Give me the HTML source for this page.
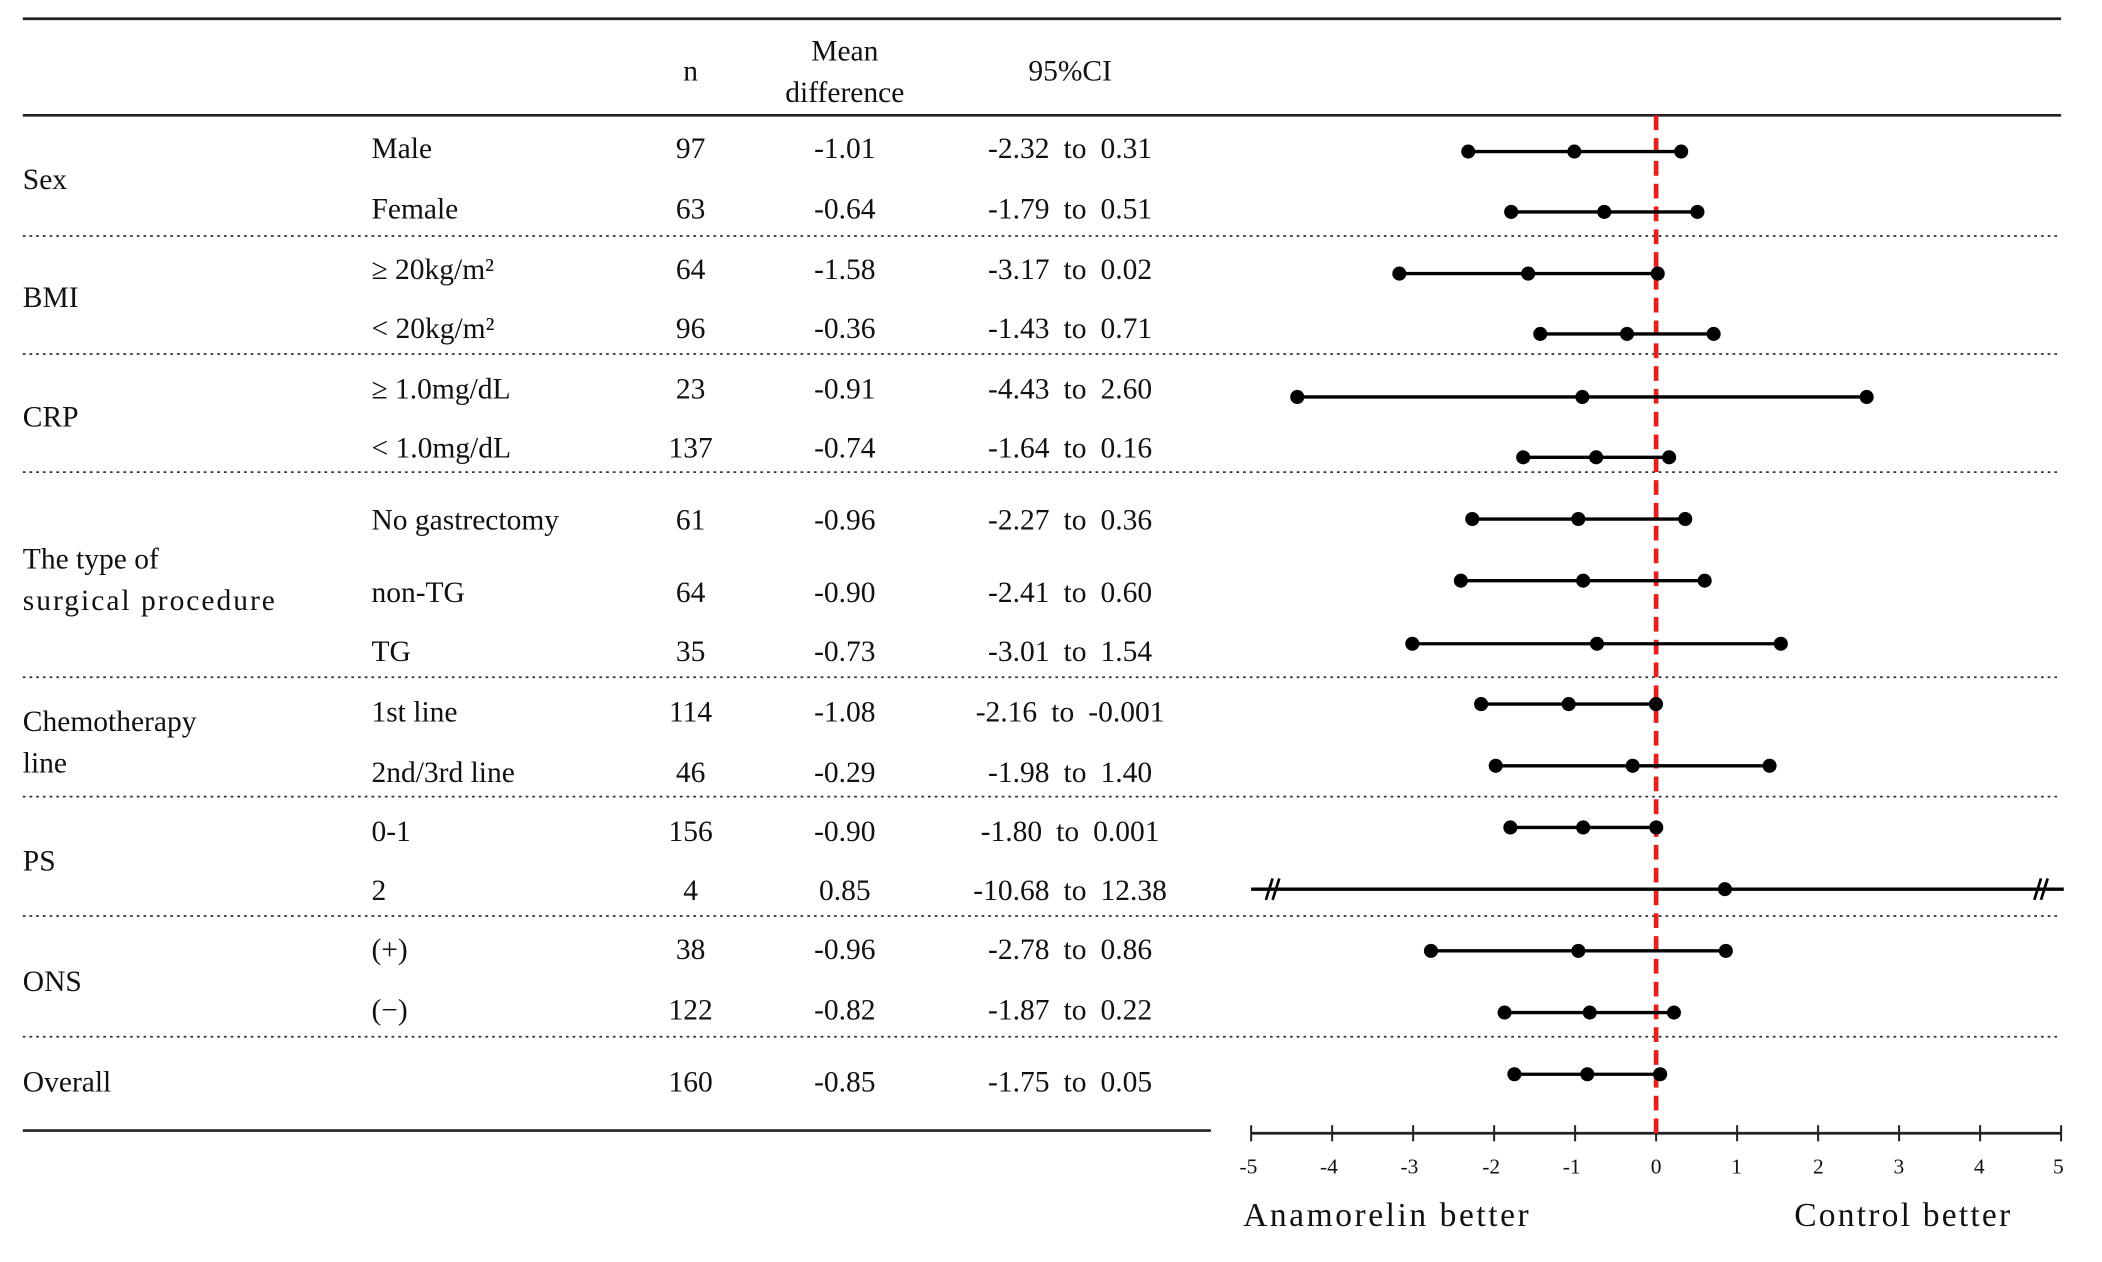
<!DOCTYPE html>
<html><head><meta charset="utf-8"><style>
html,body{margin:0;padding:0;background:#fff;}
svg{display:block}
text{font-family:"Liberation Serif",serif;fill:#111;}
.ci{word-spacing:5px}
</style></head><body>
<svg width="2102" height="1262" viewBox="0 0 1567.5 941" preserveAspectRatio="none" xmlns="http://www.w3.org/2000/svg">
<g stroke="#222" stroke-width="2">
<line x1="17" y1="14" x2="1537" y2="14"/>
<line x1="17" y1="86" x2="1537" y2="86"/>
<line x1="17" y1="843" x2="903" y2="843"/>
<line x1="933" y1="845" x2="1537" y2="845"/>
</g>
<g stroke="#333" stroke-width="1.3" stroke-dasharray="2,3">
<line x1="17" y1="176" x2="1537" y2="176"/>
<line x1="17" y1="264" x2="1537" y2="264"/>
<line x1="17" y1="352" x2="1537" y2="352"/>
<line x1="17" y1="505" x2="1537" y2="505"/>
<line x1="17" y1="594" x2="1537" y2="594"/>
<line x1="17" y1="683" x2="1537" y2="683"/>
<line x1="17" y1="773" x2="1537" y2="773"/>
</g>
<g stroke="#222" stroke-width="1.5">
<line x1="933" y1="839" x2="933" y2="851"/><line x1="993.4" y1="839" x2="993.4" y2="851"/><line x1="1053.8" y1="839" x2="1053.8" y2="851"/><line x1="1114.2" y1="839" x2="1114.2" y2="851"/><line x1="1174.6" y1="839" x2="1174.6" y2="851"/><line x1="1235" y1="839" x2="1235" y2="851"/><line x1="1295.4" y1="839" x2="1295.4" y2="851"/><line x1="1355.8" y1="839" x2="1355.8" y2="851"/><line x1="1416.2" y1="839" x2="1416.2" y2="851"/><line x1="1476.6" y1="839" x2="1476.6" y2="851"/><line x1="1537" y1="839" x2="1537" y2="851"/>
</g>
<g font-size="16" text-anchor="middle">
<text x="931" y="875">-5</text><text x="991" y="875">-4</text><text x="1051" y="875">-3</text><text x="1112" y="875">-2</text><text x="1172" y="875">-1</text><text x="1235" y="875">0</text><text x="1295" y="875">1</text><text x="1356" y="875">2</text><text x="1416" y="875">3</text><text x="1476" y="875">4</text><text x="1535" y="875">5</text>
</g>
<text x="927" y="914" font-size="25" textLength="213" lengthAdjust="spacing">Anamorelin better</text>
<text x="1338" y="914" font-size="25" textLength="161" lengthAdjust="spacing">Control better</text>
<line x1="1235" y1="86" x2="1235" y2="845" stroke="#e8201c" stroke-width="3.5" stroke-dasharray="11,6"/>
<g font-size="22">
<text x="515" y="60" text-anchor="middle">n</text>
<text x="630" y="45" text-anchor="middle">Mean</text>
<text x="630" y="76" text-anchor="middle">difference</text>
<text x="798" y="60" text-anchor="middle">95%CI</text>
<text x="17" y="141">Sex</text>
<text x="17" y="229">BMI</text>
<text x="17" y="318">CRP</text>
<text x="17" y="424">The type of</text>
<text x="17" y="455" textLength="188" lengthAdjust="spacing">surgical procedure</text>
<text x="17" y="545">Chemotherapy</text>
<text x="17" y="576">line</text>
<text x="17" y="649">PS</text>
<text x="17" y="739">ONS</text>
<text x="17" y="814">Overall</text>
</g>
<g font-size="22">
<text x="277" y="118">Male</text><text x="515" y="118" text-anchor="middle">97</text><text x="630" y="118" text-anchor="middle">-1.01</text><text class="ci" x="798" y="118" text-anchor="middle">-2.32 to 0.31</text>
<text x="277" y="163">Female</text><text x="515" y="163" text-anchor="middle">63</text><text x="630" y="163" text-anchor="middle">-0.64</text><text class="ci" x="798" y="163" text-anchor="middle">-1.79 to 0.51</text>
<text x="277" y="208">≥ 20kg/m²</text><text x="515" y="208" text-anchor="middle">64</text><text x="630" y="208" text-anchor="middle">-1.58</text><text class="ci" x="798" y="208" text-anchor="middle">-3.17 to 0.02</text>
<text x="277" y="252">&lt; 20kg/m²</text><text x="515" y="252" text-anchor="middle">96</text><text x="630" y="252" text-anchor="middle">-0.36</text><text class="ci" x="798" y="252" text-anchor="middle">-1.43 to 0.71</text>
<text x="277" y="297">≥ 1.0mg/dL</text><text x="515" y="297" text-anchor="middle">23</text><text x="630" y="297" text-anchor="middle">-0.91</text><text class="ci" x="798" y="297" text-anchor="middle">-4.43 to 2.60</text>
<text x="277" y="341">&lt; 1.0mg/dL</text><text x="515" y="341" text-anchor="middle">137</text><text x="630" y="341" text-anchor="middle">-0.74</text><text class="ci" x="798" y="341" text-anchor="middle">-1.64 to 0.16</text>
<text x="277" y="395">No gastrectomy</text><text x="515" y="395" text-anchor="middle">61</text><text x="630" y="395" text-anchor="middle">-0.96</text><text class="ci" x="798" y="395" text-anchor="middle">-2.27 to 0.36</text>
<text x="277" y="449">non-TG</text><text x="515" y="449" text-anchor="middle">64</text><text x="630" y="449" text-anchor="middle">-0.90</text><text class="ci" x="798" y="449" text-anchor="middle">-2.41 to 0.60</text>
<text x="277" y="493">TG</text><text x="515" y="493" text-anchor="middle">35</text><text x="630" y="493" text-anchor="middle">-0.73</text><text class="ci" x="798" y="493" text-anchor="middle">-3.01 to 1.54</text>
<text x="277" y="538">1st line</text><text x="515" y="538" text-anchor="middle">114</text><text x="630" y="538" text-anchor="middle">-1.08</text><text class="ci" x="798" y="538" text-anchor="middle">-2.16 to -0.001</text>
<text x="277" y="583">2nd/3rd line</text><text x="515" y="583" text-anchor="middle">46</text><text x="630" y="583" text-anchor="middle">-0.29</text><text class="ci" x="798" y="583" text-anchor="middle">-1.98 to 1.40</text>
<text x="277" y="627">0-1</text><text x="515" y="627" text-anchor="middle">156</text><text x="630" y="627" text-anchor="middle">-0.90</text><text class="ci" x="798" y="627" text-anchor="middle">-1.80 to 0.001</text>
<text x="277" y="671">2</text><text x="515" y="671" text-anchor="middle">4</text><text x="630" y="671" text-anchor="middle">0.85</text><text class="ci" x="798" y="671" text-anchor="middle">-10.68 to 12.38</text>
<text x="277" y="715">(+)</text><text x="515" y="715" text-anchor="middle">38</text><text x="630" y="715" text-anchor="middle">-0.96</text><text class="ci" x="798" y="715" text-anchor="middle">-2.78 to 0.86</text>
<text x="277" y="760">(−)</text><text x="515" y="760" text-anchor="middle">122</text><text x="630" y="760" text-anchor="middle">-0.82</text><text class="ci" x="798" y="760" text-anchor="middle">-1.87 to 0.22</text>
<text x="515" y="814" text-anchor="middle">160</text><text x="630" y="814" text-anchor="middle">-0.85</text><text class="ci" x="798" y="814" text-anchor="middle">-1.75 to 0.05</text>
</g>
<g stroke="#000" stroke-width="2.5" fill="#000">
<line x1="1094.9" y1="113" x2="1253.7" y2="113"/><circle cx="1094.9" cy="113" r="4"/><circle cx="1174" cy="113" r="4"/><circle cx="1253.7" cy="113" r="4"/>
<line x1="1126.9" y1="158" x2="1265.8" y2="158"/><circle cx="1126.9" cy="158" r="4"/><circle cx="1196.3" cy="158" r="4"/><circle cx="1265.8" cy="158" r="4"/>
<line x1="1043.5" y1="204" x2="1236.2" y2="204"/><circle cx="1043.5" cy="204" r="4"/><circle cx="1139.6" cy="204" r="4"/><circle cx="1236.2" cy="204" r="4"/>
<line x1="1148.6" y1="249" x2="1277.9" y2="249"/><circle cx="1148.6" cy="249" r="4"/><circle cx="1213.3" cy="249" r="4"/><circle cx="1277.9" cy="249" r="4"/>
<line x1="967.4" y1="296" x2="1392" y2="296"/><circle cx="967.4" cy="296" r="4"/><circle cx="1180" cy="296" r="4"/><circle cx="1392" cy="296" r="4"/>
<line x1="1135.9" y1="341" x2="1244.7" y2="341"/><circle cx="1135.9" cy="341" r="4"/><circle cx="1190.3" cy="341" r="4"/><circle cx="1244.7" cy="341" r="4"/>
<line x1="1097.9" y1="387" x2="1256.7" y2="387"/><circle cx="1097.9" cy="387" r="4"/><circle cx="1177" cy="387" r="4"/><circle cx="1256.7" cy="387" r="4"/>
<line x1="1089.4" y1="433" x2="1271.2" y2="433"/><circle cx="1089.4" cy="433" r="4"/><circle cx="1180.6" cy="433" r="4"/><circle cx="1271.2" cy="433" r="4"/>
<line x1="1053.2" y1="480" x2="1328" y2="480"/><circle cx="1053.2" cy="480" r="4"/><circle cx="1190.9" cy="480" r="4"/><circle cx="1328" cy="480" r="4"/>
<line x1="1104.5" y1="525" x2="1234.9" y2="525"/><circle cx="1104.5" cy="525" r="4"/><circle cx="1169.8" cy="525" r="4"/><circle cx="1234.9" cy="525" r="4"/>
<line x1="1115.4" y1="571" x2="1319.6" y2="571"/><circle cx="1115.4" cy="571" r="4"/><circle cx="1217.5" cy="571" r="4"/><circle cx="1319.6" cy="571" r="4"/>
<line x1="1126.3" y1="617" x2="1235.1" y2="617"/><circle cx="1126.3" cy="617" r="4"/><circle cx="1180.6" cy="617" r="4"/><circle cx="1235.1" cy="617" r="4"/>
<line x1="933" y1="663" x2="1539" y2="663"/><circle cx="1286.3" cy="663" r="4"/>
<line x1="1067.1" y1="709" x2="1287" y2="709"/><circle cx="1067.1" cy="709" r="4"/><circle cx="1177" cy="709" r="4"/><circle cx="1287" cy="709" r="4"/>
<line x1="1122" y1="755" x2="1248.3" y2="755"/><circle cx="1122" cy="755" r="4"/><circle cx="1185.5" cy="755" r="4"/><circle cx="1248.3" cy="755" r="4"/>
<line x1="1129.3" y1="801" x2="1238" y2="801"/><circle cx="1129.3" cy="801" r="4"/><circle cx="1183.7" cy="801" r="4"/><circle cx="1238" cy="801" r="4"/>
<line x1="944" y1="671" x2="949" y2="655" stroke-width="2"/><line x1="949" y1="671" x2="954" y2="655" stroke-width="2"/>
<line x1="1517" y1="671" x2="1522" y2="655" stroke-width="2"/><line x1="1522" y1="671" x2="1527" y2="655" stroke-width="2"/>
</g>
</svg>
</body></html>
